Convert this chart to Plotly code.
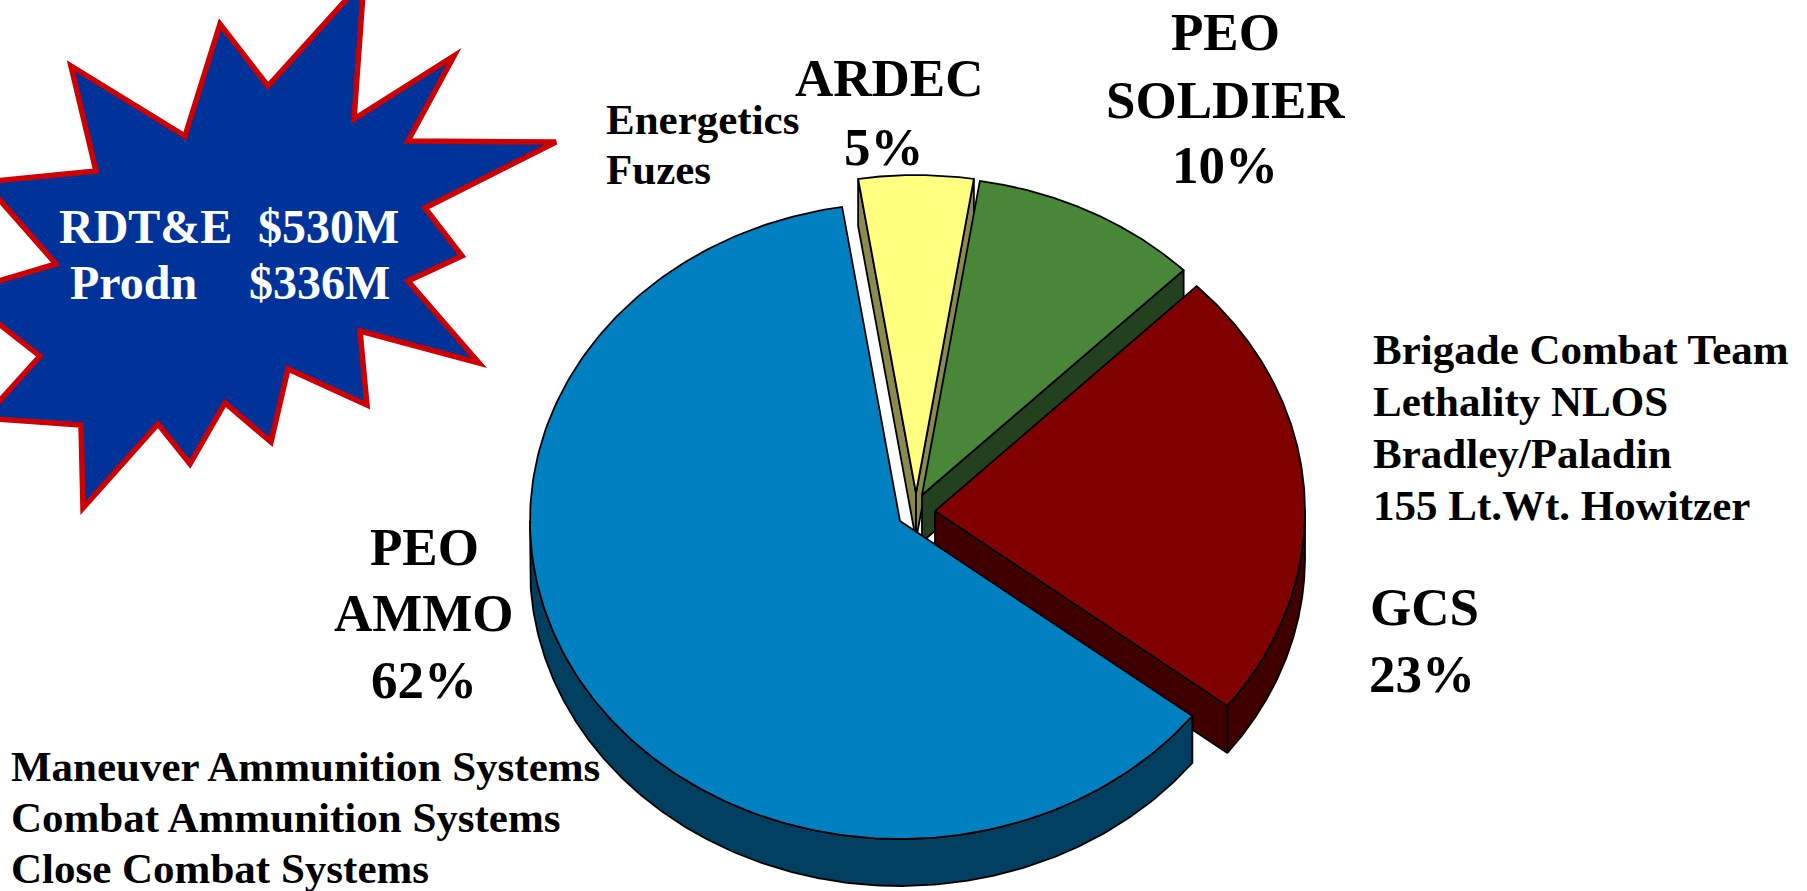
import numpy as np
import plotly.graph_objects as go

# ---------------- data ----------------
categories = ["ARDEC", "PEO SOLDIER", "GCS", "PEO AMMO"]
shares = [5, 10, 23, 62]                 # percent of budget
pct_labels = ["5%", "10%", "23%", "62%"]
ardec_programs = ["Energetics", "Fuzes"]
gcs_programs = ["Brigade Combat Team", "Lethality NLOS", "Bradley/Paladin", "155 Lt.Wt. Howitzer"]
ammo_programs = ["Maneuver Ammunition Systems", "Combat Ammunition Systems", "Close Combat Systems"]
funding_types = ["RDT&E", "Prodn"]
funding_amounts = ["$530M", "$336M"]

# ---------------- style ----------------
top_colors = ["#FFFF80", "#4A8638", "#800000", "#0080C0"]
side_colors = ["#8A8A4C", "#23411F", "#400000", "#003F5F"]
explode_px = [(16, -28), (22, -26), (35, -10), (0, 0)]   # pixel offset of exploded slices

W, H = 1807, 891
CX, CY = 900, 521          # pie centre (pixels)
RX, RY = 370, 318          # ellipse radii of the tilted pie
DEPTH = 47                 # thickness of the 3-D pie
FONT = "Liberation Serif, Times New Roman, serif"
BIG, SMALL = 53, 43

total = float(sum(shares))
start = -shares[0] / total * 360 / 2.0


def rim(cx, cy, a0, a1, n=240):
    t = np.radians(np.linspace(a0, a1, n))
    return cx + RX * np.sin(t), cy - RY * np.cos(t)


def poly(xs, ys, fill):
    xs = list(xs) + [xs[0]]
    ys = list(ys) + [ys[0]]
    return go.Scatter(x=xs, y=ys, mode="lines", fill="toself", fillcolor=fill,
                      line=dict(color="black", width=1.8), hoverinfo="skip",
                      showlegend=False)


slices = []
cum = start
for i, v in enumerate(shares):
    span = v / total * 360
    a0, a1 = cum, cum + span
    cx = CX + explode_px[i][0]
    cy = CY + explode_px[i][1]
    slices.append((i, a0, a1, cx, cy))
    cum = a1

wall_traces = []
top_traces = []
for i, a0, a1, cx, cy in slices:
    # outer curved wall (front half only)
    lo, hi = max(a0, 90), min(a1, 270)
    if a0 >= 0 and hi > lo:
        xt, yt = rim(cx, cy, lo, hi)
        xs = np.concatenate([xt, xt[::-1]])
        ys = np.concatenate([yt, yt[::-1] + DEPTH])
        wall_traces.append((i, poly(xs, ys, side_colors[i])))
    # radial cut walls that face the viewer
    for ang, visible in ((a0, 180 < (a0 % 360) < 360), (a1, 0 < (a1 % 360) < 180)):
        if visible:
            px, py = rim(cx, cy, ang, ang, 1)
            xs = [cx, px[0], px[0], cx]
            ys = [cy, py[0], py[0] + DEPTH, cy + DEPTH]
            wall_traces.append((i, poly(xs, ys, side_colors[i])))
    # top face
    xt, yt = rim(cx, cy, a0, a1)
    top_traces.append(poly(np.concatenate([[cx], xt]), np.concatenate([[cy], yt]), top_colors[i]))

fig = go.Figure()
for i, t in sorted(wall_traces, key=lambda z: z[0]):
    fig.add_trace(t)
for t in top_traces:
    fig.add_trace(t)

# ---------------- starburst ----------------
star = [(-16, 182), (96, 171), (71, 66), (185, 136), (220, 24), (268, 86), (364, -20),
        (354, 119), (454, 56), (408, 141), (556, 142), (425, 208), (462, 256), (408, 281),
        (479, 363), (360, 331), (367, 405), (288, 369), (271, 442), (225, 403), (190, 464),
        (158, 424), (83, 508), (81, 425), (-16, 418), (40, 356), (-41, 293), (56, 264)]
path = "M " + " L ".join(f"{x},{y}" for x, y in star) + " Z"
fig.add_shape(type="path", path=path, xref="x", yref="y", fillcolor="#003399",
              line=dict(color="#CC0000", width=5.5), layer="below")

ann = []


def txt(s, x, y, size, xanchor="center", color="black"):
    ann.append(dict(text=s, x=x, y=y, xref="x", yref="y", showarrow=False,
                    xanchor=xanchor, yanchor="middle", borderpad=0,
                    font=dict(family=FONT, size=size, color=color, weight="bold")))


# star text
txt(funding_types[0], 58, 226, 48, "left", "white")
txt(funding_amounts[0], 400, 226, 48, "right", "white")
txt(funding_types[1], 69, 282, 48, "left", "white")
txt(funding_amounts[1], 391, 282, 48, "right", "white")

# PEO AMMO
txt("PEO", 424, 547, BIG)
txt("AMMO", 424, 613, BIG)
txt(pct_labels[3], 424, 680, BIG)
for k, s in enumerate(ammo_programs):
    txt(s, 10, 766 + 51 * k, SMALL, "left")

# ARDEC
txt(categories[0], 889, 78, BIG)
txt(pct_labels[0], 884, 147, BIG)
for k, s in enumerate(ardec_programs):
    txt(s, 605, 119 + 50 * k, SMALL, "left")

# PEO SOLDIER
txt("PEO", 1225, 32, BIG)
txt("SOLDIER", 1225, 100, BIG)
txt(pct_labels[1], 1225, 165, BIG)

# GCS
for k, s in enumerate(gcs_programs):
    txt(s, 1372, 349 + 52 * k, SMALL, "left")
txt(categories[2], 1369, 607, BIG, "left")
txt(pct_labels[2], 1368, 674, BIG, "left")

fig.update_layout(
    width=W, height=H, margin=dict(l=0, r=0, t=0, b=0),
    paper_bgcolor="white", plot_bgcolor="white",
    xaxis=dict(range=[0, W], visible=False, fixedrange=True),
    yaxis=dict(range=[H, 0], visible=False, fixedrange=True),
    annotations=ann, showlegend=False,
)

fig.write_html("out.html", config={"displayModeBar": False},
               post_script="document.body.style.margin='0';document.body.style.overflow='hidden';")
